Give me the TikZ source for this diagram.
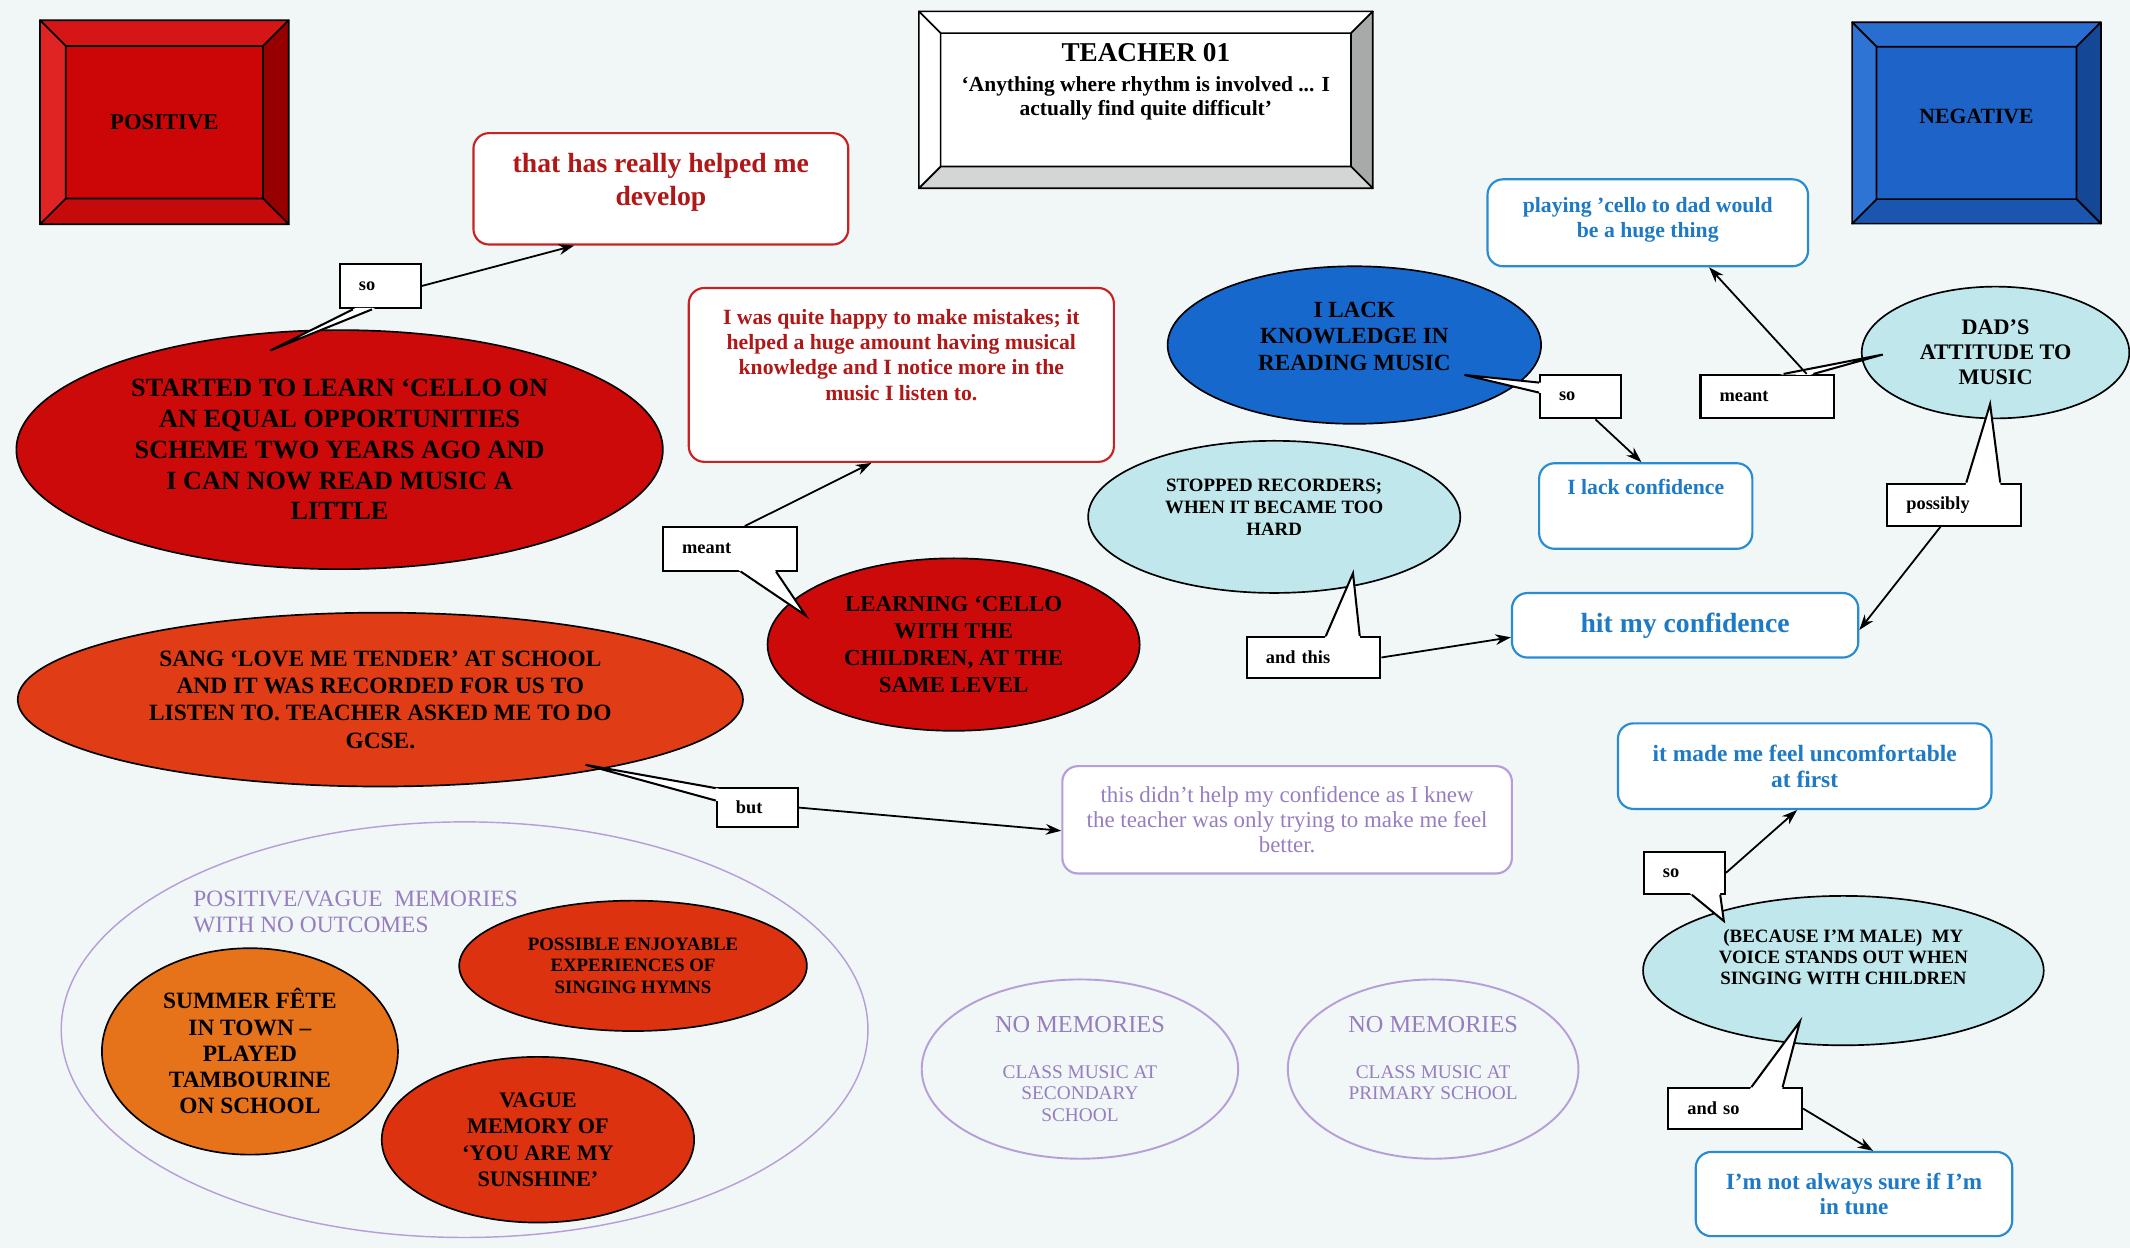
\documentclass[tikz,border=0pt]{standalone}
\usepackage{fontspec}
\setmainfont{Liberation Serif}
\usetikzlibrary{shapes.geometric,arrows.meta,calc}

\definecolor{paper}{RGB}{241,246,247}
\definecolor{posred}{RGB}{204,6,6}
\definecolor{posredtop}{RGB}{214,22,22}
\definecolor{posredleft}{RGB}{224,36,36}
\definecolor{posredright}{RGB}{150,0,0}
\definecolor{posredbot}{RGB}{196,10,10}
\definecolor{negblue}{RGB}{30,100,200}
\definecolor{negbluetop}{RGB}{40,110,208}
\definecolor{negblueleft}{RGB}{46,116,212}
\definecolor{negblueright}{RGB}{20,72,150}
\definecolor{negbluebot}{RGB}{26,86,176}
\definecolor{greyright}{RGB}{168,170,170}
\definecolor{greybot}{RGB}{212,214,214}
\definecolor{redoval}{RGB}{204,10,10}
\definecolor{orangered}{RGB}{224,60,22}
\definecolor{hymnred}{RGB}{220,50,16}
\definecolor{feteorange}{RGB}{230,114,26}
\definecolor{lackblue}{RGB}{22,104,204}
\definecolor{pale}{RGB}{192,231,235}
\definecolor{lineblue}{RGB}{40,140,210}
\definecolor{txtblue}{RGB}{30,122,196}
\definecolor{linered}{RGB}{200,34,34}
\definecolor{txtred}{RGB}{176,24,24}
\definecolor{lilac}{RGB}{182,158,216}
\definecolor{txtlilac}{RGB}{150,126,192}

\newcommand\fsz[2]{\fontsize{#1}{#2}\selectfont}
% extra depth on the last line lifts a text block inside its shape
\newcommand\dn[1]{\rule[-#1]{0pt}{#1}}

% bevelled frame around a rectangular node: depth, then top/right/bottom/left fills
\newcommand\bevel[6]{%
  \coordinate (#1o1) at (#1.north west);
  \coordinate (#1o2) at (#1.north east);
  \coordinate (#1o3) at (#1.south east);
  \coordinate (#1o4) at (#1.south west);
  \coordinate (#1i1) at ($(#1o1)+(#2,#2)$);
  \coordinate (#1i2) at ($(#1o2)+(-#2,#2)$);
  \coordinate (#1i3) at ($(#1o3)+(-#2,-#2)$);
  \coordinate (#1i4) at ($(#1o4)+(#2,-#2)$);
  \filldraw[facet,fill=#3] (#1o1) -- (#1o2) -- (#1i2) -- (#1i1) -- cycle;
  \filldraw[facet,fill=#4] (#1o2) -- (#1o3) -- (#1i3) -- (#1i2) -- cycle;
  \filldraw[facet,fill=#5] (#1o3) -- (#1o4) -- (#1i4) -- (#1i3) -- cycle;
  \filldraw[facet,fill=#6] (#1o4) -- (#1o1) -- (#1i1) -- (#1i4) -- cycle;
}

% speech-bubble pointer of a label box: box, side from/to anchors, two fractions, tip
\newcommand\pointer[6]{%
  \coordinate (#1pa) at ($(#1.#2)!#4!(#1.#3)$);
  \coordinate (#1pb) at ($(#1.#2)!#5!(#1.#3)$);
  \fill[white] ($(#1pa)!-1.5pt!(#6)$) -- (#6) -- ($(#1pb)!-1.5pt!(#6)$) -- cycle;
  \draw[tagline] (#1pa) -- (#6) -- (#1pb);
}

\tikzset{
  every node/.style={inner sep=0pt, align=center},
  oval/.style={ellipse, draw=black, line width=0.7pt},
  notebox/.style={rectangle, rounded corners=6.5pt, fill=white, line width=0.9pt},
  rednote/.style={notebox, draw=linered, text=txtred},
  bluenote/.style={notebox, draw=lineblue, text=txtblue},
  lilacnote/.style={notebox, draw=lilac, text=txtlilac},
  lilacoval/.style={ellipse, draw=lilac, line width=0.8pt, text=txtlilac},
  tagbox/.style={rectangle, draw=black, fill=white, line width=0.85pt,
    align=left, text width=#1, inner xsep=8pt, font=\bfseries\fsz{7.7}{9}},
  tagline/.style={line width=0.85pt, line join=miter},
  linkarrow/.style={line width=0.75pt, -{Stealth[length=6.5pt,width=4.5pt]}},
  bevelbox/.style={rectangle, draw=black, line width=0.7pt},
  facet/.style={draw=black, line width=0.7pt, line join=round},
}

\begin{document}
\begin{tikzpicture}[x=0.02cm, y=-0.02cm]
\fill[paper] (0,0) rectangle (1568,919);
\useasboundingbox (0,0) rectangle (1568,919);

% ---------- headings ----------
\node[bevelbox, fill=posred, minimum width=3.64cm, minimum height=2.98cm,
  font=\bfseries\fsz{9.5}{11}] (pos) at (121,90) {POSITIVE};
\bevel{pos}{19}{posredtop}{posredright}{posredbot}{posredleft}

\node[bevelbox, fill=white, minimum width=6.66cm, minimum height=2.58cm,
  font=\bfseries\fsz{9}{10.2}] (teacher) at (843.5,73.5)
  {{\fsz{11.4}{13}TEACHER 01}\\[2.3pt]‘Anything where rhythm is involved ... I\\actually find quite difficult’\dn{17pt}};
\bevel{teacher}{16}{white}{greyright}{greybot}{white}

\node[bevelbox, fill=negblue, minimum width=3.64cm, minimum height=2.94cm,
  font=\bfseries\fsz{9.1}{11}] (neg) at (1455,90.5) {NEGATIVE\dn{5.7pt}};
\bevel{neg}{18}{negbluetop}{negblueright}{negbluebot}{negblueleft}

% ---------- positive side ----------
\node[oval, fill=redoval, minimum width=9.52cm, minimum height=3.52cm,
  font=\bfseries\fsz{11}{12.9}] (started) at (250,331)
  {STARTED TO LEARN ‘CELLO ON\\AN EQUAL OPPORTUNITIES\\SCHEME TWO YEARS AGO AND\\I CAN NOW READ MUSIC A\\LITTLE};

\node[rednote, minimum width=5.52cm, minimum height=1.64cm,
  font=\bfseries\fsz{11.6}{13.6}] (help) at (486.5,139)
  {that has really helped me\\develop\dn{8pt}};

\node[rednote, minimum width=6.26cm, minimum height=2.56cm,
  font=\bfseries\fsz{9.1}{10.6}] (happy) at (663.5,276)
  {I was quite happy to make mistakes; it\\helped a huge amount having musical\\knowledge and I notice more in the\\music I listen to.\dn{17pt}};

\node[oval, fill=redoval, minimum width=5.48cm, minimum height=2.54cm,
  font=\bfseries\fsz{9.6}{11.3}] (learning) at (702,474.5)
  {LEARNING ‘CELLO\\WITH THE\\CHILDREN, AT THE\\SAME LEVEL};

\node[oval, fill=orangered, minimum width=10.68cm, minimum height=2.56cm,
  font=\bfseries\fsz{9.8}{11.5}] (sang) at (280,515)
  {SANG ‘LOVE ME TENDER’ AT SCHOOL\\AND IT WAS RECORDED FOR US TO\\LISTEN TO. TEACHER ASKED ME TO DO\\GCSE.};

\node[lilacnote, minimum width=6.62cm, minimum height=1.58cm,
  font=\fsz{9.6}{10.5}] (didnt) at (947.5,603.5)
  {this didn’t help my confidence as I knew\\the teacher was only trying to make me feel\\better.};

% ---------- memories without outcomes ----------
\node[ellipse, draw=lilac, line width=0.6pt, minimum width=11.88cm, minimum height=6.12cm]
  (memories) at (342,758) {};
\node[anchor=west, align=left, text=txtlilac, font=\fsz{9.8}{10.8}] (memlabel) at (142,671.5)
  {POSITIVE/VAGUE\ \ MEMORIES\\WITH NO OUTCOMES};

\node[oval, fill=hymnred, minimum width=5.12cm, minimum height=1.92cm,
  font=\bfseries\fsz{7.9}{9.1}] (hymns) at (466,711)
  {POSSIBLE ENJOYABLE\\EXPERIENCES OF\\SINGING HYMNS};

\node[oval, fill=feteorange, minimum width=4.36cm, minimum height=3.04cm,
  font=\bfseries\fsz{9.8}{11}] (fete) at (184,774)
  {SUMMER FÊTE\\IN TOWN –\\PLAYED\\TAMBOURINE\\ON SCHOOL};

\node[oval, fill=hymnred, minimum width=4.6cm, minimum height=2.44cm,
  font=\bfseries\fsz{9.3}{11}] (sunshine) at (396,839)
  {VAGUE\\MEMORY OF\\‘YOU ARE MY\\SUNSHINE’};

\node[lilacoval, minimum width=4.66cm, minimum height=2.64cm,
  font=\fsz{8.1}{9.1}] (nosec) at (795,787)
  {{\fsz{10.2}{12}NO MEMORIES}\\[10pt]CLASS MUSIC AT\\SECONDARY\\SCHOOL};

\node[lilacoval, minimum width=4.28cm, minimum height=2.64cm,
  font=\fsz{8.1}{9.1}] (noprim) at (1055,787)
  {{\fsz{10.2}{12}NO MEMORIES}\\[10pt]CLASS MUSIC AT\\PRIMARY SCHOOL\\\phantom{S}};

% ---------- negative side ----------
\node[oval, fill=lackblue, minimum width=5.5cm, minimum height=2.32cm,
  font=\bfseries\fsz{9.7}{11}] (lack) at (997,254)
  {I LACK\\KNOWLEDGE IN\\READING MUSIC\dn{7.4pt}};

\node[bluenote, minimum width=3.14cm, minimum height=1.26cm,
  font=\bfseries\fsz{9.1}{10.6}] (lackconf) at (1211.5,372.5)
  {I lack confidence\dn{16.4pt}};

\node[bluenote, minimum width=4.72cm, minimum height=1.28cm,
  font=\bfseries\fsz{9.1}{10.8}] (playing) at (1213,164)
  {playing ’cello to dad would\\be a huge thing\dn{4.5pt}};

\node[oval, fill=pale, minimum width=3.94cm, minimum height=1.94cm,
  font=\bfseries\fsz{9.3}{10.5}] (dad) at (1469,259.5)
  {DAD’S\\ATTITUDE TO\\MUSIC};

\node[oval, fill=pale, minimum width=5.48cm, minimum height=2.24cm,
  font=\bfseries\fsz{7.9}{9.1}] (recorders) at (938,380.5)
  {STOPPED RECORDERS;\\WHEN IT BECAME TOO\\HARD\dn{8pt}};

\node[bluenote, minimum width=5.1cm, minimum height=0.95cm,
  font=\bfseries\fsz{11.6}{13}] (hit) at (1240.5,460.3) {hit my confidence};

\node[bluenote, minimum width=5.5cm, minimum height=1.26cm,
  font=\bfseries\fsz{9.8}{10.8}] (uncomf) at (1328.5,564)
  {it made me feel uncomfortable\\at first};

\node[oval, fill=pale, minimum width=5.9cm, minimum height=2.2cm,
  font=\bfseries\fsz{7.9}{8.8}] (male) at (1357,714.5)
  {(BECAUSE I’M MALE)\ \ MY\\VOICE STANDS OUT WHEN\\SINGING WITH CHILDREN\dn{11.3pt}};

\node[bluenote, minimum width=4.66cm, minimum height=1.24cm,
  font=\bfseries\fsz{9.7}{10.8}] (tune) at (1364.8,879)
  {I’m not always sure if I’m\\in tune};

% ---------- link labels ----------
\node[tagbox=18pt, minimum height=0.66cm] (tso1) at (280,210.5) {so};
\node[tagbox=40pt, minimum height=0.64cm] (tmeant1) at (537.3,404) {meant};
\node[tagbox=18pt, minimum height=0.58cm] (tbut) at (557.5,594.5) {but};
\node[tagbox=18pt, minimum height=0.64cm] (tso2) at (1163.5,292) {so};
\node[tagbox=40pt, minimum height=0.64cm] (tmeant2) at (1301,292) {meant};
\node[tagbox=40pt, minimum height=0.62cm] (tposs) at (1438.5,371.5) {possibly};
\node[tagbox=40pt, minimum height=0.60cm] (tandthis) at (967,484) {and this};
\node[tagbox=18pt, minimum height=0.62cm] (tso3) at (1240,642.5) {so};
\node[tagbox=40pt, minimum height=0.60cm] (tandso) at (1277.3,816) {and so};

% pointer tips inside the shapes they refer to
\coordinate (tipA) at (199,258);
\coordinate (tipB) at (593,453);
\coordinate (tipC) at (431,563);
\coordinate (tipD) at (1078,276);
\coordinate (tipE) at (1386,261);
\coordinate (tipF) at (1465,297.5);
\coordinate (tipG) at (996,422);
\coordinate (tipH) at (1269,678);
\coordinate (tipI) at (1325,752);

\pointer{tso1}{south west}{south east}{0.17}{0.40}{tipA}
\pointer{tmeant1}{south west}{south east}{0.58}{0.84}{tipB}
\pointer{tbut}{north west}{south west}{0.03}{0.33}{tipC}
\pointer{tso2}{north west}{south west}{0.19}{0.41}{tipD}
\pointer{tmeant2}{north west}{north east}{0.62}{0.84}{tipE}
\pointer{tposs}{north west}{north east}{0.59}{0.84}{tipF}
\pointer{tandthis}{north west}{north east}{0.59}{0.84}{tipG}
\pointer{tso3}{south west}{south east}{0.59}{0.93}{tipH}
\pointer{tandso}{north west}{north east}{0.62}{0.85}{tipI}

% ---------- connectors ----------
\draw[linkarrow] (tso1.east) -- ($(help.south west)!0.27!(help.south east)$);
\draw[linkarrow] ($(tmeant1.north west)!0.61!(tmeant1.north east)$) -- ($(happy.south west)!0.43!(happy.south east)$);
\draw[linkarrow] (tbut.east) -- ($(didnt.north west)!0.6!(didnt.south west)$);
\draw[linkarrow] ($(tso2.south west)!0.68!(tso2.south east)$) -- ($(lackconf.north west)!0.48!(lackconf.north east)$);
\draw[linkarrow] ($(tmeant2.north west)!0.79!(tmeant2.north east)$) -- ($(playing.south west)!0.69!(playing.south east)$);
\draw[linkarrow] ($(tposs.south west)!0.4!(tposs.south east)$) -- ($(hit.north east)!0.57!(hit.south east)$);
\draw[linkarrow] (tandthis.east) -- ($(hit.north west)!0.68!(hit.south west)$);
\draw[linkarrow] (tso3.east) -- ($(uncomf.south west)!0.48!(uncomf.south east)$);
\draw[linkarrow] (tandso.east) -- ($(tune.north west)!0.56!(tune.north east)$);
\end{tikzpicture}
\end{document}
